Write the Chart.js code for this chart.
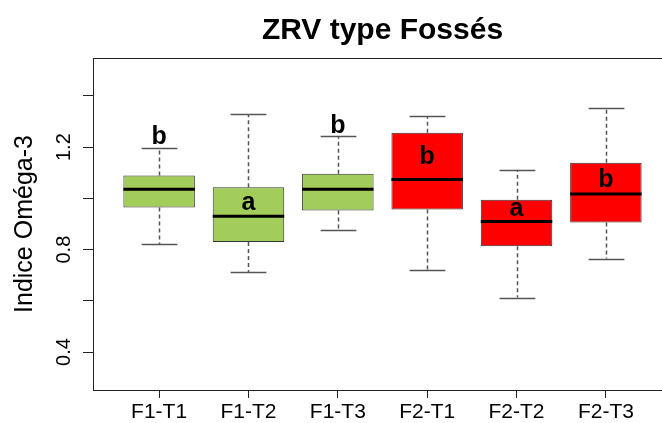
<!doctype html>
<html lang="fr">
<head>
<meta charset="utf-8">
<title>ZRV type Fossés</title>
<script src="https://cdn.jsdelivr.net/npm/chart.js"></script>
<style>
  html, body { margin: 0; padding: 0; overflow: hidden; background: #fff; }
</style>
</head>
<body>
<canvas id="chart" width="680" height="423"></canvas>
<script>
// ---- data ----
const groups = ['F1-T1', 'F1-T2', 'F1-T3', 'F2-T1', 'F2-T2', 'F2-T3']
const whiskerLow = [0.822, 0.713, 0.875, 0.719, 0.613, 0.765]
const q1 = [0.964, 0.830, 0.953, 0.957, 0.813, 0.906]
const median = [1.036, 0.930, 1.036, 1.074, 0.910, 1.017]
const q3 = [1.089, 1.043, 1.096, 1.256, 0.995, 1.139]
const whiskerHigh = [1.196, 1.329, 1.242, 1.322, 1.112, 1.354]
const letters = ['b', 'a', 'b', 'b', 'a', 'b']
const letterY = [1.213, 0.956, 1.256, 1.133, 0.930, 1.044]
const boxColors = ['#A2CD5A', '#A2CD5A', '#A2CD5A', '#FF0000', '#FF0000', '#FF0000']
const yTicks = [0.4, 0.6, 0.8, 1.0, 1.2, 1.4]
const yTickLabels = ['0.4', '', '0.8', '', '1.2', '']

const FONT = "'Liberation Sans', Arial, sans-serif"

// whiskers, medians, letters, frame and the R-style texts
const boxExtras = {
  id: 'boxExtras',
  beforeDatasetsDraw(chart) {
    const { ctx } = chart
    const y = chart.scales.y
    const bars = chart.getDatasetMeta(0).data
    ctx.save()
    bars.forEach((bar, i) => {
      const cx = Math.round(bar.x) + 0.5
      const half = bar.width / 4
      ctx.strokeStyle = '#555'
      ctx.lineWidth = 1.5
      ctx.setLineDash([4, 3])
      ctx.beginPath()
      ctx.moveTo(cx, y.getPixelForValue(q3[i]))
      ctx.lineTo(cx, y.getPixelForValue(whiskerHigh[i]))
      ctx.moveTo(cx, y.getPixelForValue(q1[i]))
      ctx.lineTo(cx, y.getPixelForValue(whiskerLow[i]))
      ctx.stroke()
      ctx.setLineDash([])
      ctx.beginPath()
      ;[whiskerHigh[i], whiskerLow[i]].forEach((v) => {
        const py = Math.round(y.getPixelForValue(v)) + 0.5
        ctx.moveTo(cx - half, py)
        ctx.lineTo(cx + half, py)
      })
      ctx.stroke()
    })
    ctx.restore()
  },
  afterDatasetsDraw(chart) {
    const { ctx, chartArea } = chart
    const y = chart.scales.y
    const bars = chart.getDatasetMeta(0).data
    ctx.save()
    bars.forEach((bar, i) => {
      const py = y.getPixelForValue(median[i])
      ctx.strokeStyle = '#000'
      ctx.lineWidth = 3
      ctx.beginPath()
      ctx.moveTo(bar.x - bar.width / 2, py)
      ctx.lineTo(bar.x + bar.width / 2, py)
      ctx.stroke()
      ctx.fillStyle = '#000'
      ctx.font = 'bold 25px ' + FONT
      ctx.textAlign = 'center'
      ctx.textBaseline = 'alphabetic'
      ctx.fillText(letters[i], bar.x, y.getPixelForValue(letterY[i]))
    })
    // plot frame
    ctx.strokeStyle = '#222'
    ctx.lineWidth = 1
    ctx.strokeRect(
      Math.round(chartArea.left) + 0.5,
      Math.round(chartArea.top) + 0.5,
      Math.round(chartArea.right - chartArea.left),
      Math.round(chartArea.bottom - chartArea.top)
    )
    // title
    ctx.fillStyle = '#000'
    ctx.font = 'bold 30px ' + FONT
    ctx.textAlign = 'center'
    ctx.textBaseline = 'middle'
    ctx.fillText('ZRV type Fossés', (chartArea.left + chartArea.right) / 2, 31)
    // rotated y tick labels
    ctx.font = '20px ' + FONT
    yTicks.forEach((v, i) => {
      if (!yTickLabels[i]) return
      ctx.save()
      ctx.translate(64, y.getPixelForValue(v))
      ctx.rotate(-Math.PI / 2)
      ctx.fillText(yTickLabels[i], 0, 0)
      ctx.restore()
    })
    // y axis title
    ctx.font = '25px ' + FONT
    ctx.translate(25, (chartArea.top + chartArea.bottom) / 2)
    ctx.rotate(-Math.PI / 2)
    ctx.fillText('Indice Oméga-3', 0, 0)
    ctx.restore()
  }
}

new Chart(document.getElementById('chart'), {
  type: 'bar',
  data: {
    datasets: [{
      data: groups.map((g, i) => ({ x: i + 1, y: [q1[i], q3[i]] })),
      backgroundColor: boxColors,
      borderColor: '#333',
      borderWidth: 1,
      borderSkipped: false,
      barPercentage: 0.8,
      categoryPercentage: 1
    }]
  },
  options: {
    responsive: false,
    animation: false,
    layout: { padding: { top: 58, right: 8, left: 0, bottom: 0 } },
    plugins: { legend: { display: false }, tooltip: { enabled: false } },
    scales: {
      x: {
        type: 'linear',
        offset: false,
        min: 0.26,
        max: 6.74,
        afterBuildTicks: (s) => { s.ticks = groups.map((g, i) => ({ value: i + 1 })) },
        afterFit: (s) => { s.height = 33 },
        grid: { offset: false, drawOnChartArea: false, tickLength: 8, color: '#222' },
        border: { display: false },
        ticks: {
          callback: (v) => groups[v - 1] || '',
          autoSkip: false,
          maxRotation: 0,
          padding: 2,
          color: '#000',
          font: { family: FONT, size: 21 }
        }
      },
      y: {
        min: 0.252,
        max: 1.548,
        afterBuildTicks: (s) => { s.ticks = yTicks.map((v) => ({ value: v })) },
        afterFit: (s) => { s.width = 93 },
        grid: { drawOnChartArea: false, tickLength: 10, color: '#222' },
        border: { display: false },
        ticks: { display: false }
      }
    }
  },
  plugins: [boxExtras]
})
</script>
</body>
</html>
